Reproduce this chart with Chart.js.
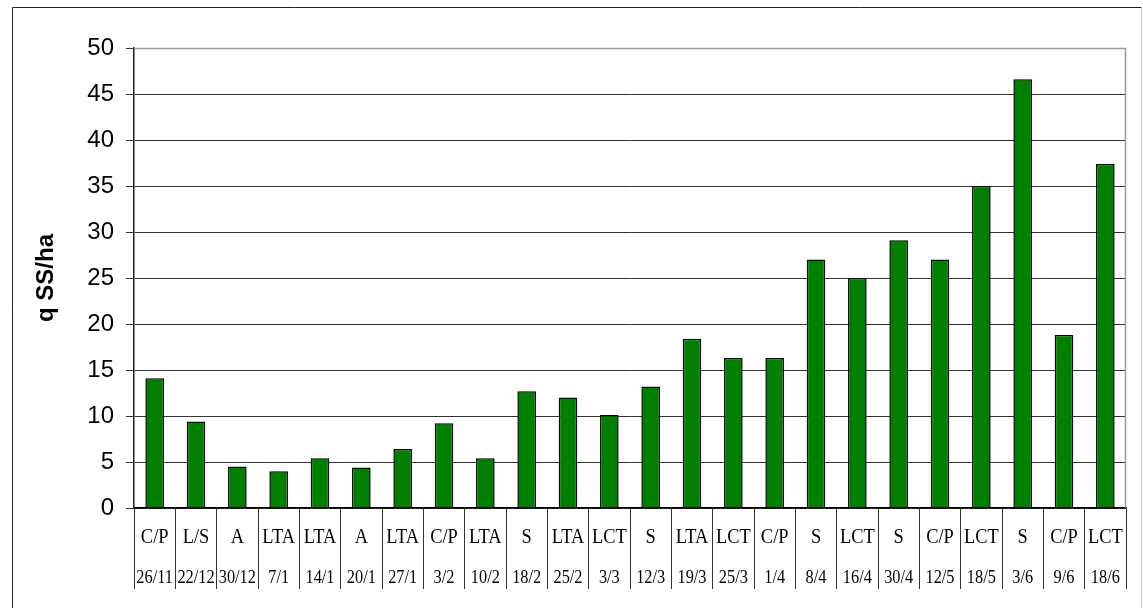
<!DOCTYPE html>
<html>
<head>
<meta charset="utf-8">
<script src="https://cdn.jsdelivr.net/npm/chart.js@4.4.1/dist/chart.umd.min.js"></script>
<style>
  html, body { margin: 0; padding: 0; background: #fff; }
  #wrap { width: 1143px; height: 608px; position: relative; }
</style>
</head>
<body>
<div id="wrap"><canvas id="c" width="1143" height="608"></canvas></div>
<script>
// Treatment code for each sampling date
const treatments = ['C/P','L/S','A','LTA','LTA','A','LTA','C/P','LTA','S','LTA','LCT','S','LTA','LCT','C/P','S','LCT','S','C/P','LCT','S','C/P','LCT'];
// Sampling dates (day/month)
const dates = ['26/11','22/12','30/12','7/1','14/1','20/1','27/1','3/2','10/2','18/2','25/2','3/3','12/3','19/3','25/3','1/4','8/4','16/4','30/4','12/5','18/5','3/6','9/6','18/6'];
// Dry matter, q SS/ha
const yieldValues = [14.1, 9.4, 4.5, 4.0, 5.4, 4.4, 6.4, 9.2, 5.4, 12.7, 12.0, 10.1, 13.2, 18.4, 16.3, 16.3, 27.0, 25.0, 29.1, 27.0, 35.0, 46.6, 18.8, 37.4];
// Value axis ticks
const yMin = 0, yMax = 50, yStep = 5;
const yTitle = 'q SS/ha';

// Frame around the whole figure plus the plot-area border
const framePlugin = {
  id: 'frame',
  beforeDraw(chart) {
    const ctx = chart.ctx;
    ctx.save();
    ctx.fillStyle = '#fff';
    ctx.fillRect(0, 0, chart.width, chart.height);
    ctx.lineWidth = 1;
    ctx.strokeStyle = '#222';
    ctx.beginPath();
    ctx.moveTo(12.5, 620); ctx.lineTo(12.5, 7.5); ctx.lineTo(1141.5, 7.5);
    ctx.stroke();
    ctx.strokeStyle = '#c8c8c8';
    ctx.beginPath();
    ctx.moveTo(1141.5, 7.5); ctx.lineTo(1141.5, 620);
    ctx.stroke();
    ctx.restore();
  },
  afterDraw(chart) {
    const ctx = chart.ctx, a = chart.chartArea;
    ctx.save();
    ctx.strokeStyle = '#9a9a9a';
    ctx.lineWidth = 1.5;
    ctx.beginPath();
    ctx.moveTo(a.left, a.top + 0.5); ctx.lineTo(a.right - 0.5, a.top + 0.5); ctx.lineTo(a.right - 0.5, a.bottom);
    ctx.stroke();
    ctx.restore();
  }
};

// Narrow serif text, centred on (x, y)
function drawNarrow(ctx, text, x, y, squeeze) {
  ctx.save();
  ctx.translate(x, y);
  ctx.scale(squeeze, 1);
  ctx.fillText(text, 0, 0);
  ctx.restore();
}

// Two-row label table under the category axis
const tablePlugin = {
  id: 'labelTable',
  afterDraw(chart) {
    const ctx = chart.ctx, x = chart.scales.x, a = chart.chartArea;
    ctx.save();
    ctx.fillStyle = '#000';
    ctx.textAlign = 'center';
    ctx.textBaseline = 'middle';
    treatments.forEach((t, i) => {
      const px = x.getPixelForValue(i);
      ctx.font = '20px "Liberation Serif", "Times New Roman", serif';
      drawNarrow(ctx, t, px, a.bottom + 30, 0.92);
      ctx.font = '19px "Liberation Serif", "Times New Roman", serif';
      drawNarrow(ctx, dates[i], px, a.bottom + 70, 0.86);
    });
    ctx.restore();
  }
};

new Chart(document.getElementById('c'), {
  type: 'bar',
  data: {
    labels: dates,
    datasets: [{
      data: yieldValues,
      backgroundColor: '#007f00',
      borderColor: '#000',
      borderWidth: 1.5,
      borderSkipped: 'bottom',
      barPercentage: 0.45,
      categoryPercentage: 1
    }]
  },
  options: {
    responsive: false,
    animation: false,
    devicePixelRatio: 1,
    layout: { padding: { left: 12, top: 48, right: 17, bottom: 0 } },
    plugins: { legend: { display: false }, tooltip: { enabled: false } },
    scales: {
      x: {
        offset: true,
        grid: {
          offset: true,
          drawOnChartArea: false,
          drawTicks: true,
          tickLength: 81,
          color: '#333',
          lineWidth: 1
        },
        border: { display: true, color: '#000', width: 1.5 },
        ticks: { display: false },
        afterFit(scale) { scale.height = 100; }
      },
      y: {
        min: yMin,
        max: yMax,
        ticks: {
          stepSize: yStep,
          color: '#000',
          padding: 12,
          font: { family: '"Liberation Sans", Arial, sans-serif', size: 24 }
        },
        grid: {
          color: '#333',
          lineWidth: 1,
          tickLength: 8,
          tickColor: '#333'
        },
        border: { display: true, color: '#222', width: 1.5 },
        title: {
          display: true,
          text: yTitle,
          color: '#000',
          font: { family: '"Liberation Sans", Arial, sans-serif', size: 24, weight: 'bold' },
          padding: { top: 20, bottom: 0 }
        },
        afterFit(scale) { scale.width = 122; }
      }
    }
  },
  plugins: [framePlugin, tablePlugin]
});
</script>
</body>
</html>
